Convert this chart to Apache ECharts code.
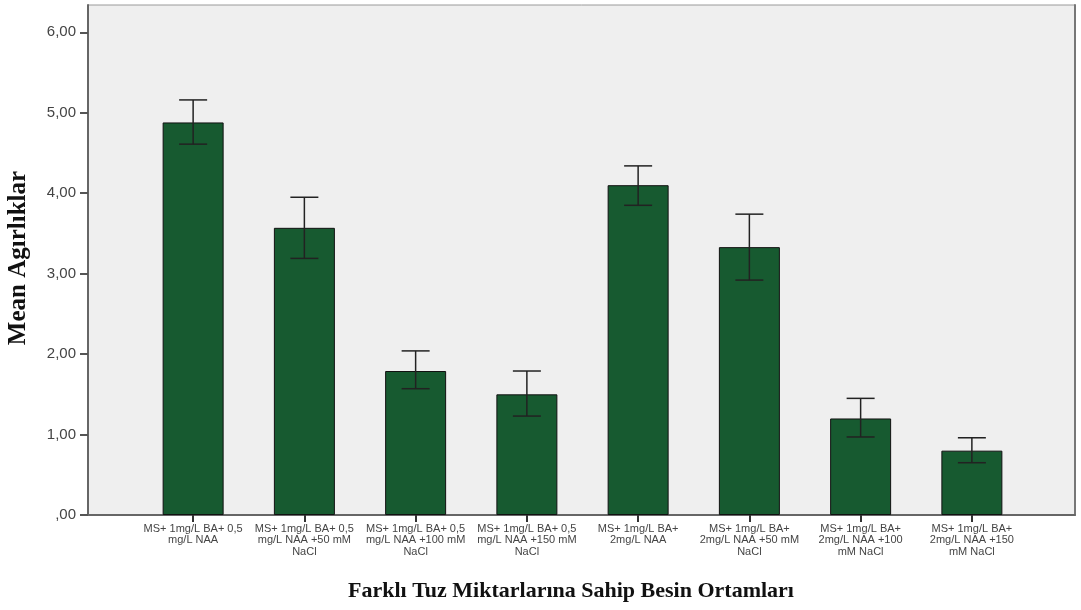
<!DOCTYPE html>
<html>
<head>
<meta charset="utf-8">
<script src="https://cdn.jsdelivr.net/npm/echarts@6/dist/echarts.min.js"></script>
<style>
  html, body { margin: 0; padding: 0; background: #fff; }
  #chart { width: 1081px; height: 610px; }
</style>
</head>
<body>
<div id="chart"></div>
<script>
const categories = [
  'MS+ 1mg/L BA+ 0,5\nmg/L NAA',
  'MS+ 1mg/L BA+ 0,5\nmg/L NAA +50 mM\nNaCl',
  'MS+ 1mg/L BA+ 0,5\nmg/L NAA +100 mM\nNaCl',
  'MS+ 1mg/L BA+ 0,5\nmg/L NAA +150 mM\nNaCl',
  'MS+ 1mg/L BA+\n2mg/L NAA',
  'MS+ 1mg/L BA+\n2mg/L NAA +50 mM\nNaCl',
  'MS+ 1mg/L BA+\n2mg/L NAA +100\nmM NaCl',
  'MS+ 1mg/L BA+\n2mg/L NAA +150\nmM NaCl'
]
const means = [4.88, 3.57, 1.79, 1.50, 4.10, 3.33, 1.20, 0.80]
const errLow = [4.61, 3.19, 1.57, 1.23, 3.85, 2.92, 0.97, 0.65]
const errHigh = [5.16, 3.95, 2.04, 1.79, 4.34, 3.74, 1.45, 0.96]
const yTicks = [0, 1, 2, 3, 4, 5, 6]

const chart = echarts.init(document.getElementById('chart'))

const yMax = 6.34
const errData = means.map((m, i) => [i, errLow[i], errHigh[i]])

const option = {
  backgroundColor: '#fff',
  animation: false,
  grid: [
    // inner grid that holds the bars
    { left: 137.5, right: 53.5, top: 5, bottom: 95 },
    // outer frame with the grey background
    { left: 88, right: 6, top: 5, bottom: 95, show: true,
      backgroundColor: '#efefef', borderColor: '#9a9a9a', borderWidth: 1 }
  ],
  xAxis: [
    {
      type: 'category', gridIndex: 0, data: categories,
      axisLine: { show: false },
      axisTick: { show: true, alignWithLabel: true, length: 7,
        lineStyle: { color: '#333', width: 2 } },
      axisLabel: { interval: 0, margin: 8, fontFamily: 'Liberation Sans, Arial',
        fontSize: 11, lineHeight: 11.5, color: '#444' }
    },
    {
      type: 'value', gridIndex: 1, min: 0, max: 1,
      axisLine: { show: true, onZero: false, lineStyle: { color: '#666', width: 2 } },
      axisTick: { show: false }, axisLabel: { show: false }, splitLine: { show: false }
    }
  ],
  yAxis: [
    {
      type: 'value', gridIndex: 0, min: 0, max: yMax, interval: 1,
      show: false
    },
    {
      type: 'value', gridIndex: 1, min: 0, max: yMax, interval: 1,
      position: 'left',
      axisLine: { show: true, lineStyle: { color: '#666', width: 2 } },
      axisTick: { show: true, length: 8, customValues: yTicks,
        lineStyle: { color: '#555', width: 2 } },
      splitLine: { show: false },
      axisLabel: {
        margin: 12, fontFamily: 'Liberation Sans, Arial', fontSize: 15, color: '#444',
        customValues: yTicks,
        formatter: v => (v === 0 ? ',00' : v.toFixed(2).replace('.', ','))
      }
    },
    {
      // darker right edge of the frame
      type: 'value', gridIndex: 1, min: 0, max: yMax, position: 'right',
      axisLine: { show: true, lineStyle: { color: '#777', width: 2 } },
      axisTick: { show: false }, axisLabel: { show: false }, splitLine: { show: false }
    }
  ],
  series: [
    {
      type: 'bar', xAxisIndex: 0, yAxisIndex: 0, data: means,
      barWidth: 61,
      itemStyle: { color: '#175a30', borderColor: '#111', borderWidth: 1 }
    },
    {
      type: 'custom', xAxisIndex: 0, yAxisIndex: 0, data: errData,
      z: 10,
      renderItem: (params, api) => {
        const x = api.value(0)
        const lo = api.coord([x, api.value(1)])
        const hi = api.coord([x, api.value(2)])
        const half = 14
        const style = { stroke: '#222', lineWidth: 1.5 }
        return {
          type: 'group',
          children: [
            { type: 'line', shape: { x1: lo[0], y1: lo[1], x2: hi[0], y2: hi[1] }, style },
            { type: 'line', shape: { x1: hi[0] - half, y1: hi[1], x2: hi[0] + half, y2: hi[1] }, style },
            { type: 'line', shape: { x1: lo[0] - half, y1: lo[1], x2: lo[0] + half, y2: lo[1] }, style }
          ]
        }
      }
    }
  ],
  graphic: [
    {
      type: 'text', x: 571, y: 591,
      style: { text: 'Farklı Tuz Miktarlarına Sahip Besin Ortamları',
        align: 'center', verticalAlign: 'middle',
        font: 'bold 22px "Liberation Serif", "Times New Roman", serif', fill: '#111' }
    },
    {
      type: 'text', x: 19, y: 258, rotation: Math.PI / 2,
      style: { text: 'Mean Agırlıklar', align: 'center', verticalAlign: 'middle',
        font: 'bold 25px "Liberation Serif", "Times New Roman", serif', fill: '#111' }
    }
  ]
}

chart.setOption(option)
</script>
</body>
</html>
